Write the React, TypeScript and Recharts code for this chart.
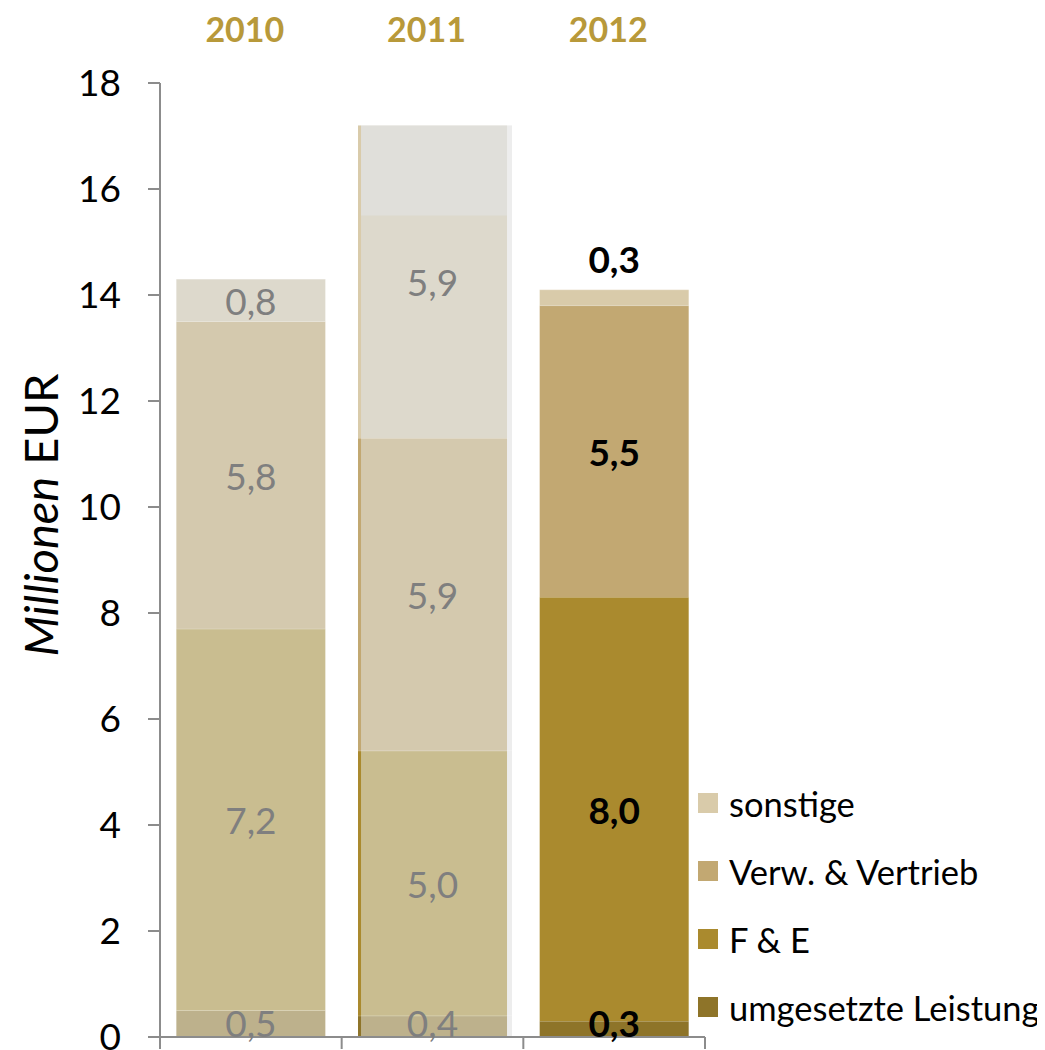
import React from 'react';
import { BarChart, Bar, XAxis, YAxis, Legend, LabelList, Label } from 'recharts';

const years = ['2010', '2011', '2012'];
const umgesetzteLeistung = [0.5, 0.4, 0.3];
const forschungEntwicklung = [7.2, 5.0, 8.0];
const verwaltungVertrieb = [5.8, 5.9, 5.5];
const sonstige = [0.8, 5.9, 0.3];
// oberer, grau abgesetzter Teil von "sonstige" (nur 2011)
const sonstigeGrau = [0, 1.7, 0];
const yTicks = [0, 2, 4, 6, 8, 10, 12, 14, 16, 18];
// nur das letzte Jahr ist farbig hervorgehoben
const highlighted = [false, false, true];

const FONT = 'Lato, "Open Sans", sans-serif';
const GOLD = '#b8993a';

const SERIES = [
  { key: 'umgesetzt', name: 'umgesetzte Leistung', color: '#8e7429', faded: '#bdb18c' },
  { key: 'fe', name: 'F & E', color: '#aa8a2e', faded: '#c9bd90' },
  { key: 'verw', name: 'Verw. & Vertrieb', color: '#c2a872', faded: '#d4c9ae' },
  { key: 'sonstige', name: 'sonstige', color: '#d9cbaa', faded: '#ddd9cc' },
];

const data = years.map((year, i) => ({
  year,
  umgesetzt: umgesetzteLeistung[i],
  fe: forschungEntwicklung[i],
  verw: verwaltungVertrieb[i],
  sonstige: sonstige[i],
  grau: sonstigeGrau[i],
}));

const fmt = (v: number) => v.toFixed(1).replace('.', ',');

const segmentShape = (series: (typeof SERIES)[number]) => (props: any) => {
  const { x, y, width, height, index, payload } = props;
  if (!height || height <= 0) return <g />;
  const hi = highlighted[index];
  const fill = hi ? series.color : series.faded;
  const grau = series.key === 'sonstige' ? payload.grau : 0;
  const grauH = grau > 0 ? (height * grau) / payload[series.key] : 0;
  return (
    <g>
      {index === 1 && <rect x={x + width} y={y} width={5} height={height} fill="#ededed" />}
      <rect x={x} y={y} width={width} height={height} fill={fill} />
      {grauH > 0 && <rect x={x} y={y} width={width} height={grauH} fill="#e0dfda" />}
      {index === 1 && <rect x={x} y={y} width={3} height={height} fill={series.color} />}
      <line x1={x} x2={x + width} y1={y} y2={y} stroke="#ffffff" strokeOpacity={0.35} />
    </g>
  );
};

const segmentLabel = (seriesKey: string) => (props: any) => {
  const { x, y, width, height, index, value } = props;
  const hi = highlighted[index];
  let cy = Math.min(y + height / 2, y + height - 15);
  // kleine Werte oben auf dem Balken stehen darüber
  if (seriesKey === 'sonstige' && height < 30) cy = y - 31;
  return (
    <text
      x={x + width / 2}
      y={cy}
      textAnchor="middle"
      dominantBaseline="central"
      fontFamily={FONT}
      fontSize={37}
      fontWeight={hi ? 700 : 400}
      fill={hi ? '#000000' : '#7f7f7f'}
    >
      {fmt(value)}
    </text>
  );
};

const BottomTick = (props: any) => {
  const { x, y, payload, index, visibleTicksCount } = props;
  const off = payload.offset || 0;
  const top = y - 8;
  return (
    <g>
      <line x1={x - off} x2={x - off} y1={top} y2={top + 12} stroke="#8c8c8c" strokeWidth={2} />
      {index === visibleTicksCount - 1 && (
        <line x1={x + off} x2={x + off} y1={top} y2={top + 12} stroke="#8c8c8c" strokeWidth={2} />
      )}
    </g>
  );
};

const YearTick = (props: any) => {
  const { x, payload } = props;
  return (
    <text x={x - 6} y={20} textAnchor="middle" dominantBaseline="central" fontFamily={FONT} fontSize={34} fontWeight={700} fill={GOLD}>
      {payload.value}
    </text>
  );
};

const LegendContent = () => (
  <div style={{ fontFamily: FONT, fontSize: 34.5, color: '#000' }}>
    {[...SERIES].reverse().map((s) => (
      <div key={s.key} style={{ display: 'flex', alignItems: 'center', height: 68 }}>
        <span style={{ display: 'inline-block', width: 20, height: 20, background: s.color, marginRight: 11 }} />
        <span>{s.name}</span>
      </div>
    ))}
  </div>
);

export default function App() {
  return (
    <BarChart
      width={1037}
      height={1042}
      data={data}
      margin={{ top: 15, right: 340, bottom: 0, left: 0 }}
      barCategoryGap="9%"
    >
      <XAxis xAxisId="top" dataKey="year" orientation="top" height={60} axisLine={false} tickLine={false} tick={<YearTick />} />
      <XAxis
        xAxisId="bottom"
        dataKey="year"
        height={13}
        axisLine={{ stroke: '#8c8c8c', strokeWidth: 2 }}
        tickLine={false}
        tick={<BottomTick />}
        interval={0}
      />
      <YAxis
        width={152}
        domain={[0, 18]}
        ticks={yTicks}
        interval={0}
        axisLine={{ stroke: '#8c8c8c', strokeWidth: 2 }}
        tickLine={{ stroke: '#8c8c8c', strokeWidth: 2 }}
        tickSize={12}
        tickMargin={27}
        tick={{ fill: '#000000', fontSize: 37, fontFamily: FONT }}
      >
        <Label
          content={() => (
            <text
              transform="translate(32, 507) rotate(-90)"
              textAnchor="middle"
              dominantBaseline="central"
              fontFamily={FONT}
              fontSize={47}
              fill="#000000"
            >
              <tspan fontStyle="italic">Millionen</tspan> EUR
            </text>
          )}
        />
      </YAxis>
      <Legend
        layout="horizontal"
        verticalAlign="middle"
        content={<LegendContent />}
        wrapperStyle={{ left: 690, top: 761, width: 347 }}
      />
      {SERIES.map((s) => (
        <Bar
          key={s.key}
          xAxisId="bottom"
          dataKey={s.key}
          name={s.name}
          stackId="a"
          fill={s.color}
          shape={segmentShape(s)}
          isAnimationActive={false}
        >
          <LabelList dataKey={s.key} content={segmentLabel(s.key)} />
        </Bar>
      ))}
    </BarChart>
  );
}
